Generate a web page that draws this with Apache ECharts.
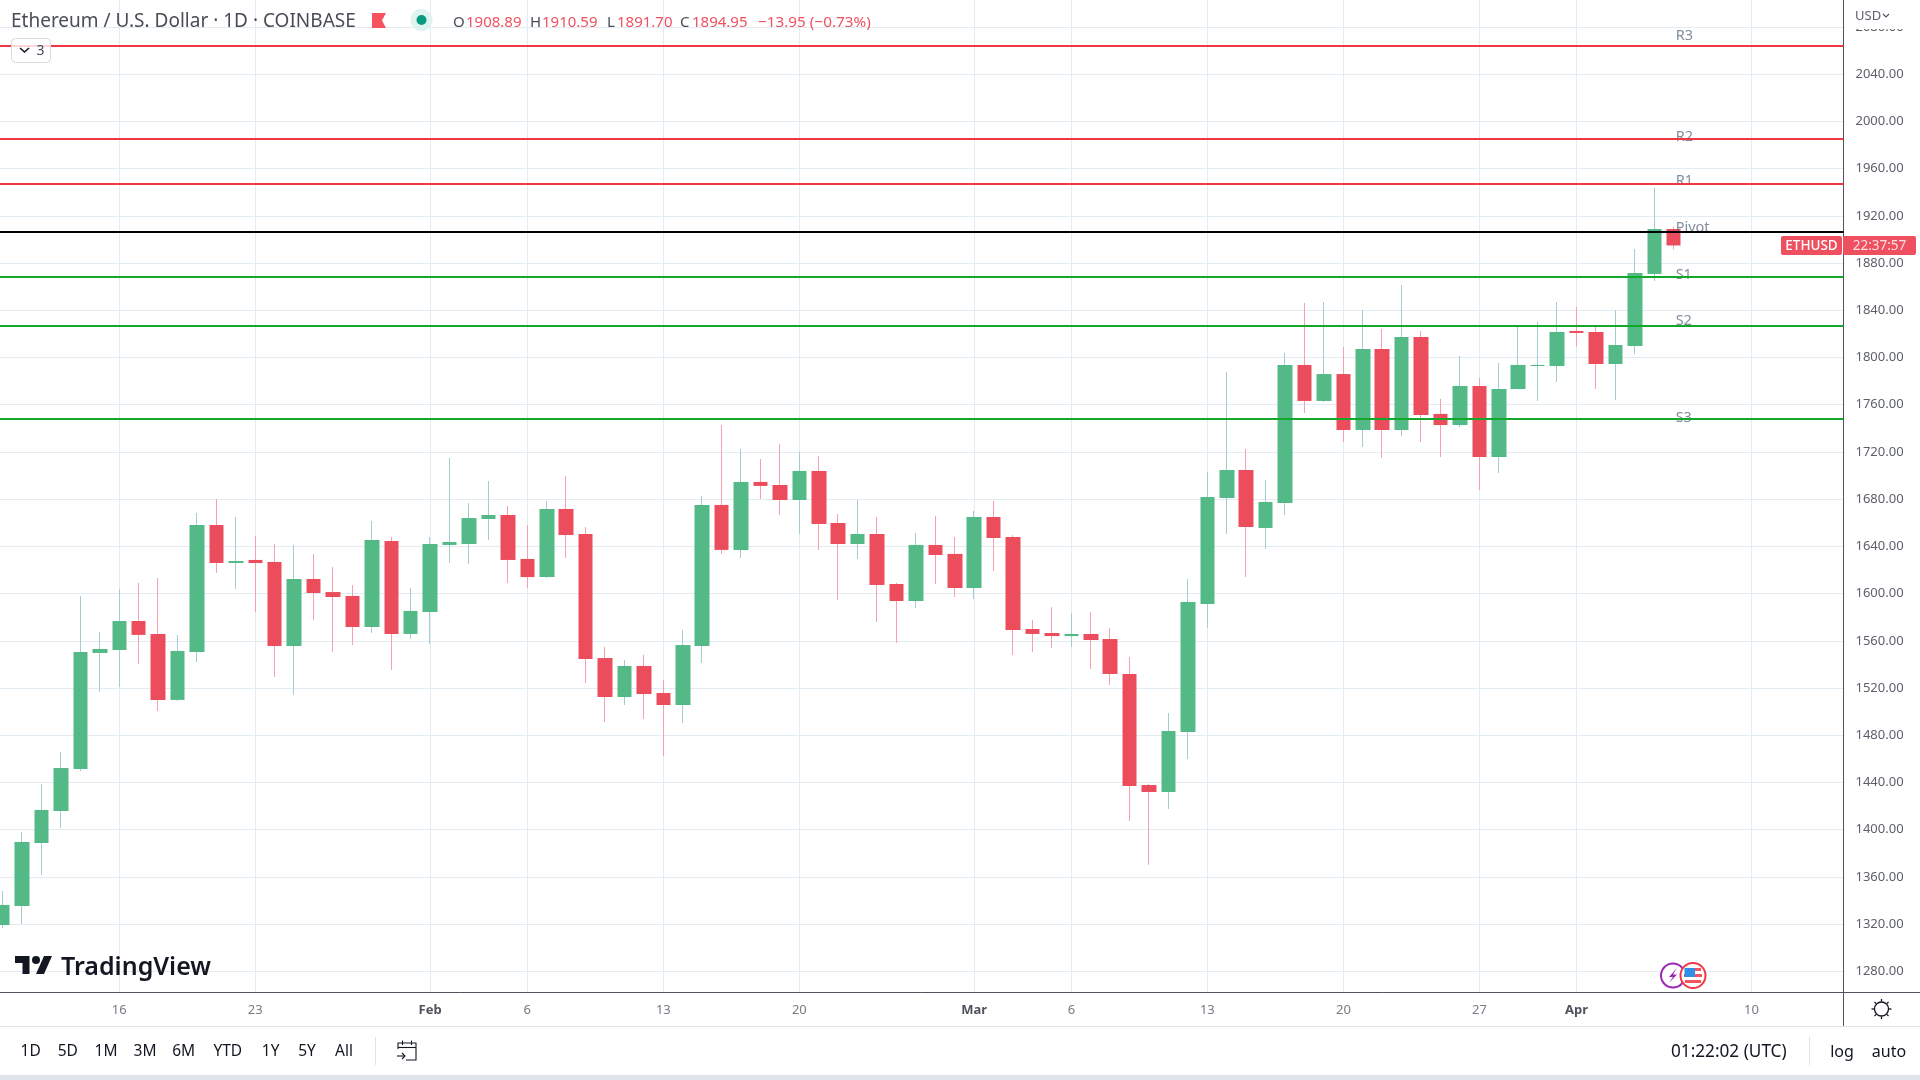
<!DOCTYPE html>
<html>
<head>
<meta charset="utf-8">
<title>Ethereum / U.S. Dollar</title>
<script src="https://cdn.jsdelivr.net/npm/echarts@6/dist/echarts.min.js"></script>
<style>
  html, body { margin: 0; padding: 0; background: #fff; }
  #chart { width: 1920px; height: 1080px; }
</style>
</head>
<body>
<div id="chart"></div>
<script>
// daily candles, Jan 10 - Apr 6 (x position is the array index)
const opens = [1319.2,1335.3,1388.7,1415.8,1451.4,1549.7,1552.2,1576.8,1565.8,1509.9,1550.5,1658.1,1625.9,1628.5,1626.8,1555.6,1612.4,1601.3,1598,1571.7,1644.6,1565.8,1584.4,1641.2,1642,1663.2,1666.6,1629.3,1614,1671.7,1650.5,1545.4,1512.4,1538.7,1515.8,1505.6,1555.6,1675.1,1637,1694.6,1692,1679.3,1703.9,1659.8,1642,1650.5,1608.1,1593.7,1641.2,1633.6,1604.7,1664.9,1648,1570,1566.6,1564,1565.8,1561.5,1531.9,1437.8,1431.9,1482.7,1591.2,1681,1704.7,1655.6,1676.8,1793.7,1763.2,1786,1738.6,1807.2,1738.6,1817.4,1752.2,1742.8,1775.9,1715.7,1773.3,1792.8,1792.8,1822.5,1821.6,1794.5,1809.8,1870.8,1908.89];
const closes = [1336.2,1389.5,1416.7,1452.2,1550.5,1553.1,1576.8,1565,1509.9,1551.4,1658.1,1625.9,1627.6,1625.9,1555.6,1612.4,1600.5,1597.1,1571.7,1645.4,1565.8,1585.3,1642,1643.7,1664,1666.6,1628.5,1614,1671.7,1649.6,1544.6,1512.4,1538.7,1514.9,1505.6,1556.4,1675.1,1637,1694.6,1691.2,1679.3,1703.9,1659,1642,1650.5,1607.3,1593.7,1641.2,1632.7,1604.7,1664.9,1647.1,1569.2,1565.8,1564,1565.8,1560.7,1531.9,1437,1431.9,1483.6,1592.9,1681.9,1704.7,1656.4,1677.6,1793.7,1763.2,1786,1738.6,1807.2,1738.6,1817.4,1751.3,1742.8,1775.9,1715.7,1773.3,1793.7,1793.7,1821.6,1820.8,1794.5,1810.6,1871.6,1908.9,1894.95];
const lows = [1316.4,1320.1,1361.6,1401.4,1449.7,1516.6,1520.9,1540.4,1500.5,1509,1542,1617.5,1603.9,1584.4,1529.3,1514.1,1577.6,1550.5,1556.5,1566.6,1535.3,1561.5,1557.3,1625.9,1625.1,1645.4,1609,1604.7,1613.2,1630.2,1524.3,1491.2,1505.6,1493.8,1462.4,1490.4,1541.2,1633.6,1630.2,1680.2,1666.6,1650.5,1636.9,1594.6,1629.3,1575.9,1558.1,1587.8,1608.1,1597.1,1595.4,1619.2,1548,1550.5,1553.9,1554.8,1536.1,1522.6,1407.3,1370.1,1417.5,1459.9,1570.9,1650.5,1614.1,1637.8,1666.6,1753,1762.3,1728.4,1724.2,1714.9,1733.5,1728.4,1715.7,1741.1,1687.8,1702.2,1773.3,1763.2,1779.3,1809,1773.3,1764,1803,1864.8,1891.7];
const highs = [1348,1398,1438.7,1465.8,1598,1567.5,1603.9,1609,1613.2,1564.9,1668.3,1680.2,1664.9,1648.8,1642,1641.2,1633.6,1622.5,1607.3,1661.5,1648,1604.7,1648,1714.9,1676.8,1695.4,1674.2,1658.1,1678.5,1699.6,1656.4,1554.8,1543.8,1548,1526.8,1569.2,1682.7,1742.9,1722.5,1714,1726.8,1720,1716.6,1667.4,1679.3,1664.9,1609,1651.3,1665.8,1648,1670,1678.5,1649.6,1577.6,1588.6,1583.6,1584.4,1570.9,1546.3,1438.7,1498.8,1612.4,1703,1787.8,1722.5,1696.3,1803.8,1846.2,1847,1808.9,1840.3,1824.2,1861.5,1822.5,1764.9,1801.3,1782.7,1795.4,1825.9,1830.1,1847,1842.8,1825.9,1840.3,1892,1943.6,1910.59];

const tickIndex = [6,13,22,27,34,41,50,55,62,69,76,81,90];
const tickLabels = ['16','23','Feb','6','13','20','Mar','6','13','20','27','Apr','10'];
const monthLabels = ['Feb','Mar','Apr'];
const priceTicks = [1280,1320,1360,1400,1440,1480,1520,1560,1600,1640,1680,1720,1760,1800,1840,1880,1920,1960,2000,2040,2080];

const pivotNames = ['R3','R2','R1','Pivot','S1','S2','S3'];
const pivotValues = [2064.2,1985.2,1947.3,1906.6,1868.5,1827,1748.2];
const pivotLabelPrices = [2072.9,1986.7,1949.4,1909.6,1869.8,1830.7,1748.9];
const pivotLabelIndex = 86.1;

const rangeButtons = ['1D','5D','1M','3M','6M','YTD','1Y','5Y','All'];
const rangeCenters = [30.6,67.8,106,145,183.7,227.8,270.6,307,344];

const FONT = '"Noto Sans", sans-serif';
const UP = '#53b987', DOWN = '#eb4d5c';
const UP_WICK = '#a3cdd0', DOWN_WICK = '#f7a0ae';
const GRID = '#e3ecf2', AXIS = '#50535e', BORDER = '#e0e3eb';
const RED_LINE = '#f23645', GREEN_LINE = '#14a82a';
const TITLE = '#4a4d57', VALUE = '#f0505f';

function pivotColor(i) {
  if (pivotNames[i] === 'Pivot') return '#000000';
  return pivotNames[i][0] === 'R' ? RED_LINE : GREEN_LINE;
}

function txt(x, y, text, fill, fontSize, extra) {
  return {
    type: 'text', x: x, y: y, z: 100,
    style: Object.assign({
      text: text, fill: fill, fontSize: fontSize, fontFamily: FONT,
      textAlign: 'left', textVerticalAlign: 'middle'
    }, extra || {})
  };
}
function line(x1, y1, x2, y2, color, width) {
  return { type: 'line', z: 99, shape: { x1, y1, x2, y2 }, style: { stroke: color, lineWidth: width || 1, fill: null } };
}
function poly(points, color, width) {
  return { type: 'polyline', z: 100, shape: { points }, style: { stroke: color, lineWidth: width || 1.5, fill: null } };
}

const chrome = [
  // panel covers
  { type: 'rect', z: 90, shape: { x: 1845, y: 0, width: 75, height: 29 }, style: { fill: '#fff' } },
  { type: 'rect', z: 90, shape: { x: 0, y: 1075, width: 1920, height: 5 }, style: { fill: BORDER } },
  line(1843.5, 992, 1843.5, 1026, AXIS),
  line(1843, 992.5, 1920, 992.5, AXIS),
  line(0, 1026.5, 1920, 1026.5, BORDER),
  line(375.5, 1037, 375.5, 1065, BORDER),
  line(1809.5, 1037, 1809.5, 1065, BORDER),

  // legend row
  txt(11, 22, 'Ethereum / U.S. Dollar · 1D · COINBASE', TITLE, 19),
  { type: 'polygon', z: 100, shape: { points: [[372,13],[386,13],[382,20.5],[386,28],[372,28]] }, style: { fill: '#f7525f' } },
  { type: 'circle', z: 100, shape: { cx: 421.5, cy: 20, r: 11 }, style: { fill: '#dff3ef' } },
  { type: 'circle', z: 100, shape: { cx: 421.5, cy: 20, r: 5 }, style: { fill: '#089981' } },
  txt(453, 23, 'O', TITLE, 15), txt(466, 23, '1908.89', VALUE, 15),
  txt(530, 23, 'H', TITLE, 15), txt(542, 23, '1910.59', VALUE, 15),
  txt(607, 23, 'L', TITLE, 15), txt(617, 23, '1891.70', VALUE, 15),
  txt(680, 23, 'C', TITLE, 15), txt(692, 23, '1894.95', VALUE, 15),
  txt(758, 23, '−13.95 (−0.73%)', VALUE, 15.3),

  // collapsed indicators box
  { type: 'rect', z: 100, shape: { x: 11.5, y: 38.5, width: 39, height: 24, r: 4 }, style: { fill: 'rgba(255,255,255,0.8)', stroke: '#d6d8e0', lineWidth: 1 } },
  poly([[20,48],[24.5,52],[29,48]], '#131722', 1.6),
  txt(36.5, 51, '3', TITLE, 14),

  // logo
  { type: 'polygon', z: 100, shape: { points: [[15,956],[29.5,956],[29.5,974],[22.5,974],[22.5,963],[15,963]] }, style: { fill: '#131722' } },
  { type: 'polygon', z: 100, shape: { points: [[36,974],[44,956],[52,956],[44,974]] }, style: { fill: '#131722' } },
  { type: 'circle', z: 100, shape: { cx: 36, cy: 960, r: 4 }, style: { fill: '#131722' } },
  txt(61, 968, 'TradingView', '#131722', 25, { fontWeight: 600 }),

  // price axis head and last price badges
  txt(1855, 16, 'USD', '#5d606b', 13),
  poly([[1883,14],[1886,17],[1889,14]], '#50535e', 1.2),
  { type: 'rect', z: 100, shape: { x: 1781, y: 236, width: 61, height: 19, r: 2 }, style: { fill: '#ee5060' } },
  { type: 'rect', z: 100, shape: { x: 1843, y: 236, width: 73, height: 19, r: 2 }, style: { fill: '#ee5060' } },
  txt(1811.5, 246, 'ETHUSD', '#ffffff', 13.5, { textAlign: 'center', fontWeight: 500 }),
  txt(1879.5, 246, '22:37:57', '#fbdde1', 13.5, { textAlign: 'center' }),

  // event badges
  { type: 'circle', z: 100, shape: { cx: 1673, cy: 975.5, r: 12 }, style: { fill: '#fff', stroke: '#9c27b0', lineWidth: 2 } },
  { type: 'polygon', z: 100, shape: { points: [[1677,968],[1669,977],[1673,977],[1669,983],[1677,974.5],[1673,974.5]] }, style: { fill: '#9c27b0' } },
  { type: 'circle', z: 101, shape: { cx: 1693, cy: 975.5, r: 12.5 }, style: { fill: '#fff', stroke: '#f23645', lineWidth: 2 } },
  { type: 'rect', z: 102, shape: { x: 1685, y: 968, width: 16, height: 3 }, style: { fill: '#f7525f' } },
  { type: 'rect', z: 102, shape: { x: 1684, y: 974, width: 18, height: 3 }, style: { fill: '#f7525f' } },
  { type: 'rect', z: 102, shape: { x: 1685, y: 980, width: 16, height: 3 }, style: { fill: '#f7525f' } },
  { type: 'rect', z: 103, shape: { x: 1684.5, y: 968, width: 10.5, height: 9 }, style: { fill: '#2f8fe8' } },

  // settings gear
  { type: 'circle', z: 100, shape: { cx: 1881.5, cy: 1009, r: 7 }, style: { fill: null, stroke: '#131722', lineWidth: 1.3 } },
  line(1881.5, 999, 1881.5, 1001.5, '#131722', 1.3), line(1881.5, 1016.5, 1881.5, 1019, '#131722', 1.3),
  line(1871.5, 1009, 1874, 1009, '#131722', 1.3), line(1889, 1009, 1891.5, 1009, '#131722', 1.3),
  line(1874.5, 1002, 1876, 1003.5, '#131722', 1.3), line(1887, 1014.5, 1888.5, 1016, '#131722', 1.3),
  line(1874.5, 1016, 1876, 1014.5, '#131722', 1.3), line(1887, 1003.5, 1888.5, 1002, '#131722', 1.3),

  // calendar icon
  poly([[398,1049],[398,1043],[416,1043],[416,1060],[406,1060]], '#131722', 1.1),
  line(398, 1047.5, 416, 1047.5, '#131722', 1.1),
  line(402.5, 1040.5, 402.5, 1045, '#131722', 1.1),
  line(411.5, 1040.5, 411.5, 1045, '#131722', 1.1),
  poly([[397,1056],[405,1056]], '#131722', 1.1),
  poly([[402,1053],[405,1056],[402,1059]], '#131722', 1.1),

  // bottom bar, right side
  txt(1671, 1052, '01:22:02 (UTC)', '#131722', 17.2),
  txt(1842, 1052, 'log', '#131722', 16, { textAlign: 'center' }),
  txt(1889, 1052, 'auto', '#131722', 16, { textAlign: 'center' })
];
rangeButtons.forEach(function (name, i) {
  chrome.push(txt(rangeCenters[i], 1052, name, '#131722', 15.5, { textAlign: 'center' }));
});

const wickData = opens.map(function (o, i) { return [i, o, closes[i], lows[i], highs[i]]; });
const bodyData = opens.map(function (o, i) {
  return [i, o, closes[i], Math.min(o, closes[i]), Math.max(o, closes[i])];
});

const chart = echarts.init(document.getElementById('chart'));
chart.setOption({
  animation: false,
  backgroundColor: '#ffffff',
  grid: { left: 0, top: 0, right: 76.5, bottom: 87.7, containLabel: false },
  xAxis: {
    type: 'value',
    min: -0.14,
    max: 94.74,
    axisLine: { show: true, onZero: false, lineStyle: { color: AXIS, width: 1 } },
    axisTick: { show: false, customValues: tickIndex },
    splitLine: { show: true, lineStyle: { color: GRID, width: 1 } },
    axisLabel: {
      customValues: tickIndex,
      margin: 11,
      fontSize: 13,
      fontFamily: FONT,
      color: '#787b86',
      formatter: function (v) {
        const label = tickLabels[tickIndex.indexOf(v)];
        return monthLabels.indexOf(label) >= 0 ? '{m|' + label + '}' : label;
      },
      rich: { m: { fontSize: 13, fontWeight: 'bold', fontFamily: FONT, color: '#50535e' } }
    }
  },
  yAxis: {
    type: 'value',
    position: 'right',
    min: 1262.2,
    max: 2102.9,
    axisLine: { show: true, onZero: false, lineStyle: { color: AXIS, width: 1 } },
    axisTick: { show: false, customValues: priceTicks },
    splitLine: { show: true, lineStyle: { color: GRID, width: 1 } },
    axisLabel: {
      customValues: priceTicks,
      margin: 12,
      padding: [4, 0, 0, 0],
      fontSize: 13,
      fontFamily: FONT,
      color: '#5d606b',
      formatter: function (v) { return v.toFixed(2); }
    }
  },
  series: [
    {
      // thin wicks, drawn first in their paler colours
      name: 'wicks',
      type: 'candlestick',
      barWidth: 1,
      silent: true,
      itemStyle: { color: UP_WICK, color0: DOWN_WICK, borderColor: UP_WICK, borderColor0: DOWN_WICK, borderWidth: 1 },
      data: wickData
    },
    {
      name: 'ETHUSD',
      type: 'candlestick',
      barWidth: 15,
      silent: true,
      itemStyle: { color: UP, color0: DOWN, borderWidth: 0 },
      data: bodyData,
      markLine: {
        silent: true,
        symbol: 'none',
        label: { show: false },
        data: pivotValues.map(function (v, i) {
          return { yAxis: v, lineStyle: { color: pivotColor(i), width: 2, type: 'solid' } };
        })
      }
    },
    {
      name: 'pivot labels',
      type: 'scatter',
      symbolSize: 0,
      silent: true,
      data: pivotLabelPrices.map(function (p) { return [pivotLabelIndex, p]; }),
      label: {
        show: true,
        position: 'right',
        distance: 0,
        fontSize: 14.5,
        fontFamily: FONT,
        color: '#5f7183',
        formatter: function (p) { return pivotNames[p.dataIndex]; }
      }
    }
  ],
  graphic: { elements: chrome }
});
</script>
</body>
</html>
